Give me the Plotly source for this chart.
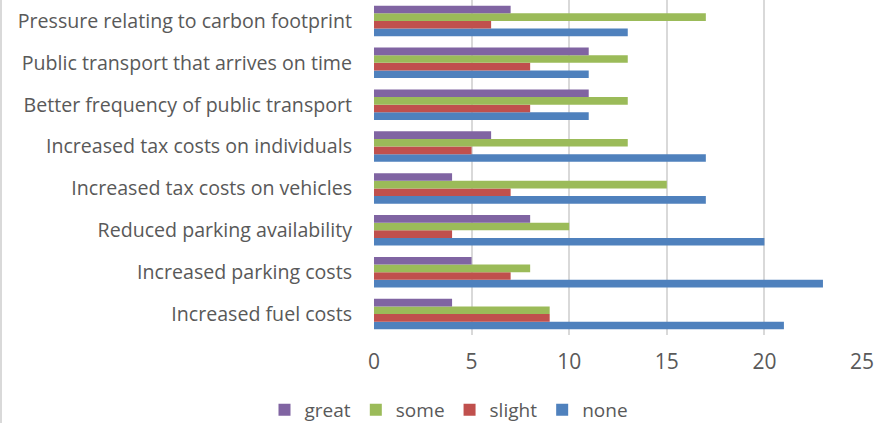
import plotly.graph_objects as go

categories = [
    "Increased fuel costs",
    "Increased parking costs",
    "Reduced parking availability",
    "Increased tax costs on vehicles",
    "Increased tax costs on individuals",
    "Better frequency of public transport",
    "Public transport that arrives on time",
    "Pressure relating to carbon footprint",
]
none_vals = [21, 23, 20, 17, 17, 11, 11, 13]
slight_vals = [9, 7, 4, 7, 5, 8, 8, 6]
some_vals = [9, 8, 10, 15, 13, 13, 13, 17]
great_vals = [4, 5, 8, 4, 6, 11, 11, 7]

series = [
    ("none", none_vals, "#4F81BD"),
    ("slight", slight_vals, "#C0504D"),
    ("some", some_vals, "#9BBB59"),
    ("great", great_vals, "#8064A2"),
]

fig = go.Figure()
for name, vals, color in series:
    fig.add_trace(go.Bar(
        y=categories, x=vals, name=name, orientation="h",
        marker=dict(color=color, line=dict(width=0)),
    ))

W, H = 888, 423
L, R, T, B = 374, 26, 0, 88
pw, ph = W - L - R, H - T - B

FAM = "'Open Sans', sans-serif"
GREY = "#595959"
fig.update_layout(
    width=W, height=H,
    margin=dict(l=L, r=R, t=T, b=B),
    paper_bgcolor="white", plot_bgcolor="white",
    barmode="group", bargap=0.27, bargroupgap=0,
    font=dict(family=FAM, size=18, color=GREY),
    showlegend=True,
    legend=dict(orientation="h", traceorder="reversed",
                xref="container", x=0.5 + 5 / W, xanchor="center",
                yref="container", y=1 - 410 / H, yanchor="middle",
                font=dict(family=FAM, size=19, color=GREY), itemwidth=30),
    xaxis=dict(range=[0, 25], dtick=5, showgrid=True, gridcolor="#D9D9D9", gridwidth=1.5,
               zeroline=False, showline=False, ticks="", ticklabelstandoff=12,
               tickfont=dict(family=FAM, size=21, color=GREY)),
    yaxis=dict(showgrid=False, zeroline=False, showline=False, ticks="",
               ticklabelstandoff=21, tickfont=dict(family=FAM, size=19.6, color=GREY),
               automargin=False),
    shapes=[dict(type="line", xref="paper", yref="paper",
                 x0=(1 - L) / pw, x1=(1 - L) / pw, y0=-B / ph, y1=1.0,
                 line=dict(color="#D9D9D9", width=2))],
)
fig.write_html("out.html", config={"displayModeBar": False},
               post_script="document.body.style.margin='0';")
